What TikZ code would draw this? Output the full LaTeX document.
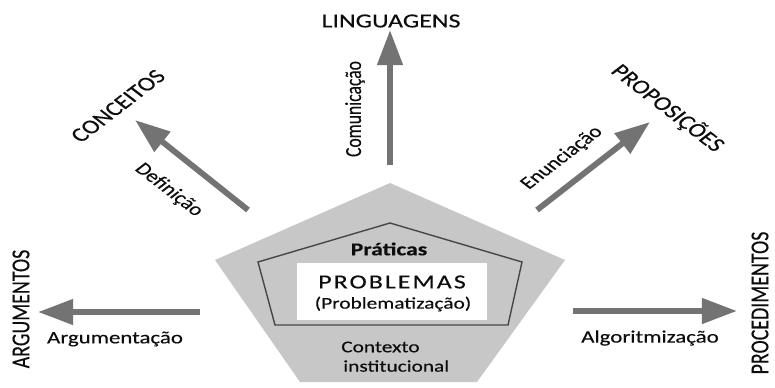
\documentclass[tikz,border=0pt]{standalone}
\usepackage{fontspec}
\setmainfont{Carlito}[FakeBold=0.3]
\usetikzlibrary{arrows.meta}

\newcommand{\txtsize}[1]{\fontsize{#1}{#1}\selectfont}

\begin{document}
\begin{tikzpicture}[x=0.03cm, y=-0.03cm,
  wide/.style={xscale=1.3, inner sep=0pt, text=black!95},
  flow/.style={line width=5pt, draw=black!55, -{Triangle[length=30pt, width=21pt]}},
  big/.style={wide, font=\txtsize{17pt}},
  label/.style={wide, font=\txtsize{15pt}}]

\useasboundingbox (0,0) rectangle (775,387);

% pentagons
\fill[black!22] (390,183) -- (565,260) -- (477,382) -- (300,382) -- (215,260) -- cycle;
\filldraw[fill=black!22, draw=black!72, line width=1.2pt] (390,223) -- (522,262) -- (508,325) -- (275,325) -- (258,262) -- cycle;
\fill[white] (297,263) rectangle (487,320);

\node[wide, font=\bfseries\txtsize{15.5pt}] (praticas) at (389,249) {Práticas};
\node[wide, font=\txtsize{17pt}\addfontfeature{LetterSpace=8}] (problemas) at (392,282) {PROBLEMAS};
\node[wide, font=\txtsize{14pt}] (problematizacao) at (393,304) {(Problematização)};
\node[wide, font=\txtsize{14pt}, anchor=west] (contexto) at (341,347) {Contexto};
\node[wide, font=\txtsize{14pt}, anchor=west] (institucional) at (343,366) {institucional};

% ends of the arrows
\coordinate (upfrom) at (390,165);
\coordinate (upto) at (390,30);
\coordinate (ulfrom) at (248,210);
\coordinate (ulto) at (135,120);
\coordinate (urfrom) at (537,210);
\coordinate (urto) at (650,122);
\coordinate (lfrom) at (200,312);
\coordinate (lto) at (38,312);
\coordinate (rfrom) at (573,311);
\coordinate (rto) at (737,311);

\draw[flow] (upfrom) -- (upto);
\draw[flow] (ulfrom) -- (ulto);
\draw[flow] (urfrom) -- (urto);
\draw[flow] (lfrom) -- (lto);
\draw[flow] (rfrom) -- (rto);

% targets
\node[big] (linguagens) at (391,21) {LINGUAGENS};
\node[big, rotate=45] (conceitos) at (118,106) {CONCEITOS};
\node[big, rotate=-45] (proposicoes) at (668,108) {PROPOSIÇÕES};
\node[big, rotate=90] (argumentos) at (21,309) {ARGUMENTOS};
\node[big, rotate=90] (procedimentos) at (760,303) {PROCEDIMENTOS};

% processes
\node[label, rotate=90] (comunicacao) at (355,109) {Comunicação};
\node[label, rotate=-45] (definicao) at (169,190) {Definição};
\node[label, rotate=45] (enunciacao) at (562,158) {Enunciação};
\node[label] (argumentacao) at (115,339) {Argumentação};
\node[label] (algoritmizacao) at (650,338) {Algoritmização};

\end{tikzpicture}
\end{document}
